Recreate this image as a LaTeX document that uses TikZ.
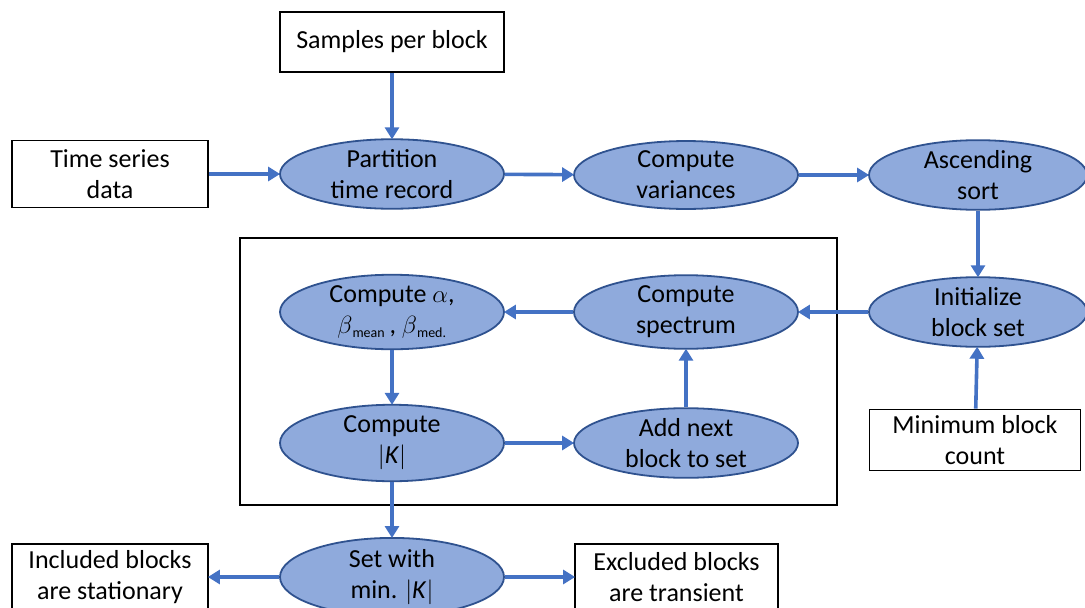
\documentclass[tikz,border=0pt]{standalone}
\usepackage{fontspec}
\setmainfont{Carlito}
\usetikzlibrary{shapes.geometric,arrows.meta}
\definecolor{arrblue}{HTML}{4472C4}
\definecolor{ellfill}{HTML}{8FAADC}
\definecolor{elldraw}{HTML}{2F528F}
\begin{document}
\begin{tikzpicture}[x=1pt,y=-1pt,
  every node/.style={font=\fontsize{26}{31}\selectfont, align=center, inner sep=0pt},
  ell/.style={ellipse, draw=elldraw, fill=ellfill, line width=1.8pt, minimum width=224pt, minimum height=65pt},
  box/.style={rectangle, draw=black, line width=1.8pt, fill=white},
  arr/.style={draw=arrblue, line width=3.6pt, -{Triangle[length=12pt,width=14pt]}, shorten >=-1pt}
]
\useasboundingbox (0,0) rectangle (1085,608);
% container box
\node[draw=black, line width=2.2pt, minimum width=597pt, minimum height=267pt] (frame) at (538.5,371.5) {};
% boxes
\node[box, minimum width=224pt, minimum height=60pt] (spb) at (392,42) {Samples per block};
\node[box, minimum width=196pt, minimum height=67pt] (tsd) at (110,174) {Time series\\data};
\node[box, minimum width=211pt, minimum height=61pt] (mbc) at (975,440) {Minimum block\\count};
\node[box, minimum width=196pt, minimum height=66pt] (inc) at (110,577) {Included blocks\\are stationary};
\node[box, minimum width=203pt, minimum height=66pt] (exc) at (676.5,577) {Excluded blocks\\are transient};
% ellipses
\node[ell] (part) at (392,174) {Partition\\time record};
\node[ell] (var) at (686,175) {Compute\\variances};
\node[ell, minimum width=218pt] (sort) at (978,175) {Ascending\\sort};
\node[ell, minimum width=218pt] (init) at (978,312) {Initialize\\block set};
\node[ell] (spec) at (686,312) {Compute\\spectrum};
\node[ell] (alpha) at (392,312) {Compute $\alpha$,\\$\beta$\textsubscript{\fontsize{14}{14}\selectfont mean}\,, $\beta$\textsubscript{\fontsize{14}{14}\selectfont med.}};
\node[ell] (K) at (392,443) {Compute\\$|$\textit{K}$|$};
\node[ell] (add) at (686,443) {Add next\\block to set};
\node[ell] (set) at (392,577) {Set with\\min. $|$\textit{K}$|$};
% arrows
\draw[arr] (spb) -- (part);
\draw[arr] (tsd) -- (part);
\draw[arr] (part) -- (var);
\draw[arr] (var) -- (sort);
\draw[arr] (sort) -- (init);
\draw[arr] (init) -- (spec);
\draw[arr] (spec) -- (alpha);
\draw[arr] (alpha) -- (K);
\draw[arr] (K) -- (add);
\draw[arr] (add) -- (spec);
\draw[arr] (mbc) -- (init);
\draw[arr] (K) -- (set);
\draw[arr] (set) -- (inc);
\draw[arr] (set) -- (exc);
\end{tikzpicture}
\end{document}
